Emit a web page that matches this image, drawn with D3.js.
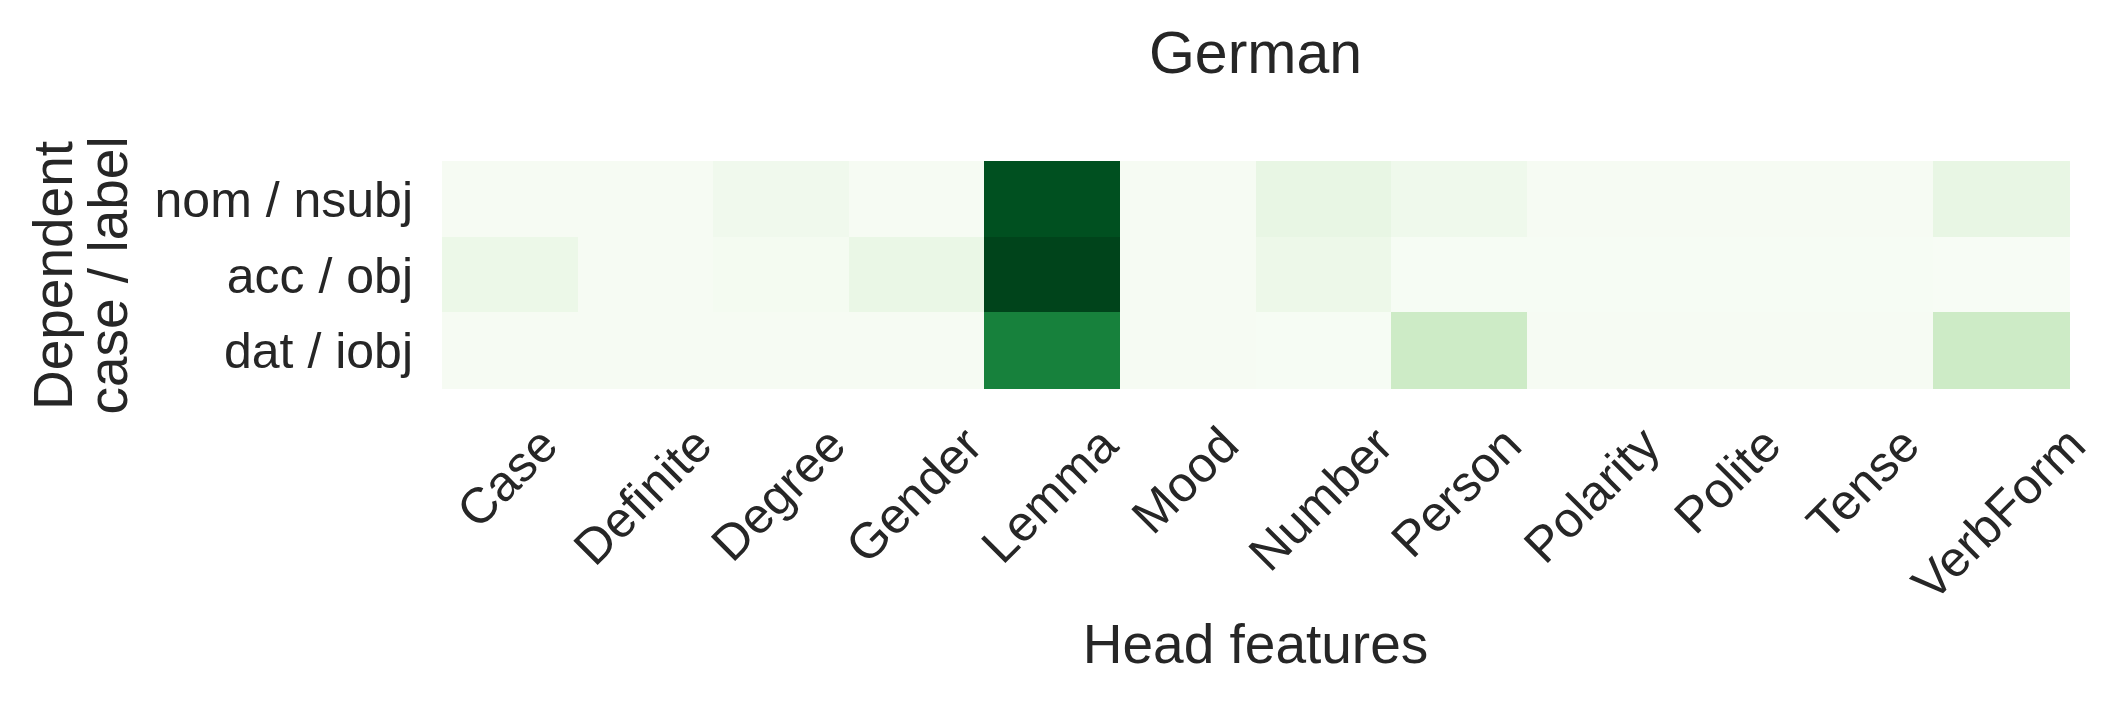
<!DOCTYPE html>
<html>
<head>
<meta charset="utf-8">
<script src="https://cdn.jsdelivr.net/npm/d3@7"></script>
<style>
    body { margin: 0; background: #ffffff; }
    text { font-family: "Liberation Sans", Arial, sans-serif; fill: #262626; }
</style>
</head>
<body>
<div id="chart"></div>
<script>
(function () {

    'use strict';

    var features = ['Case', 'Definite', 'Degree', 'Gender', 'Lemma', 'Mood', 'Number',
        'Person', 'Polarity', 'Polite', 'Tense', 'VerbForm'];

    var rowLabels = ['nom / nsubj', 'acc / obj', 'dat / iobj'];

    // one value per feature
    var nomValues = [0.010, 0.010, 0.050, 0.010, 0.963, 0.010, 0.104, 0.056, 0.010, 0.010, 0.010, 0.104];
    var accValues = [0.076, 0.010, 0.022, 0.090, 1.000, 0.010, 0.070, 0.005, 0.005, 0.005, 0.005, 0.000];
    var datValues = [0.010, 0.010, 0.010, 0.010, 0.793, 0.010, 0.008, 0.225, 0.010, 0.010, 0.010, 0.225];

    var rowValues = [nomValues, accValues, datValues];

    var titleText = 'German';
    var xLabelText = 'Head features';
    var yLabelLines = ['Dependent', 'case / label'];

    // matplotlib "Greens" stops (piecewise linear)
    var greens = ['#f7fcf5', '#e5f5e0', '#c7e9c0', '#a1d99b', '#74c476', '#41ab5d', '#238b45', '#006d2c', '#00441b'];

    var width = 2126;
    var height = 703;

    var plot = { left: 442, right: 2069, top: 161, bottom: 388 };

    var tickFont = 50;

    var cells = [];
    rowValues.forEach(function (vals, r) {
        vals.forEach(function (v, c) {
            cells.push({ row: rowLabels[r], feature: features[c], value: v });
        });
    });

    var extent = d3.extent(cells, function (d) { return d.value; });

    var colorStops = greens.map(function (g, i) {
        return extent[0] + (extent[1] - extent[0]) * i / (greens.length - 1);
    });

    var color = d3.scaleLinear()
        .domain(colorStops)
        .range(greens)
        .interpolate(d3.interpolateRgb);

    var x = d3.scaleBand()
        .domain(features)
        .range([plot.left, plot.right])
        .padding(0);

    var y = d3.scaleBand()
        .domain(rowLabels)
        .range([plot.top, plot.bottom])
        .padding(0);

    var svg = d3.select('#chart')
        .append('svg')
            .attr('width', width)
            .attr('height', height);

    svg.append('g')
        .selectAll('rect')
        .data(cells)
        .enter()
        .append('rect')
            .attr('x', function (d) { return x(d.feature); })
            .attr('y', function (d) { return y(d.row); })
            .attr('width', x.bandwidth() + 0.5)
            .attr('height', y.bandwidth() + 0.5)
            .attr('fill', function (d) { return color(d.value); })
            .attr('shape-rendering', 'crispEdges');

    // y tick labels
    var yAxis = d3.axisLeft(y).tickSize(0).tickPadding(29);

    var yAxisG = svg.append('g')
        .attr('transform', 'translate(' + plot.left + ',0)')
        .call(yAxis);

    yAxisG.select('.domain').remove();
    yAxisG.selectAll('text')
        .attr('font-size', tickFont + 'px')
        .attr('dy', '0.36em')
        .style('fill', '#262626')
        .style('font-family', '"Liberation Sans", Arial, sans-serif');

    // x tick labels, rotated 45deg, bbox centred under the tick, top at xTop
    var xTop = 416;

    var xAxis = d3.axisBottom(x).tickSize(0).tickPadding(0);

    var xAxisG = svg.append('g')
        .attr('transform', 'translate(0,' + plot.bottom + ')')
        .call(xAxis);

    xAxisG.select('.domain').remove();

    xAxisG.selectAll('.tick text')
        .attr('font-size', tickFont + 'px')
        .attr('text-anchor', 'middle')
        .attr('y', 0)
        .attr('dy', '0.35em')
        .style('fill', '#262626')
        .style('font-family', '"Liberation Sans", Arial, sans-serif')
        .attr('transform', function () {
            var w = this.getComputedTextLength();
            var h = tickFont * 1.117;
            var half = (w + h) * Math.SQRT1_2 / 2;
            var cy = (xTop - plot.bottom) + half;
            return 'translate(-3,' + cy + ') rotate(-45)';
        });

    // title
    svg.append('text')
        .attr('x', (plot.left + plot.right) / 2)
        .attr('y', 73)
        .attr('text-anchor', 'middle')
        .attr('font-size', '59px')
        .text(titleText);

    // x label
    svg.append('text')
        .attr('x', (plot.left + plot.right) / 2)
        .attr('y', 663)
        .attr('text-anchor', 'middle')
        .attr('font-size', '55px')
        .text(xLabelText);

    // y label, two lines
    var yLabelG = svg.append('g')
        .attr('transform', 'translate(0,' + ((plot.top + plot.bottom) / 2 + 1) + ') rotate(-90)');

    yLabelG.selectAll('text')
        .data(yLabelLines)
        .enter()
        .append('text')
            .attr('x', 0)
            .attr('y', function (d, i) { return 72 + i * 55; })
            .attr('text-anchor', 'middle')
            .attr('font-size', '55px')
            .text(function (d) { return d; });

}());
</script>
</body>
</html>
